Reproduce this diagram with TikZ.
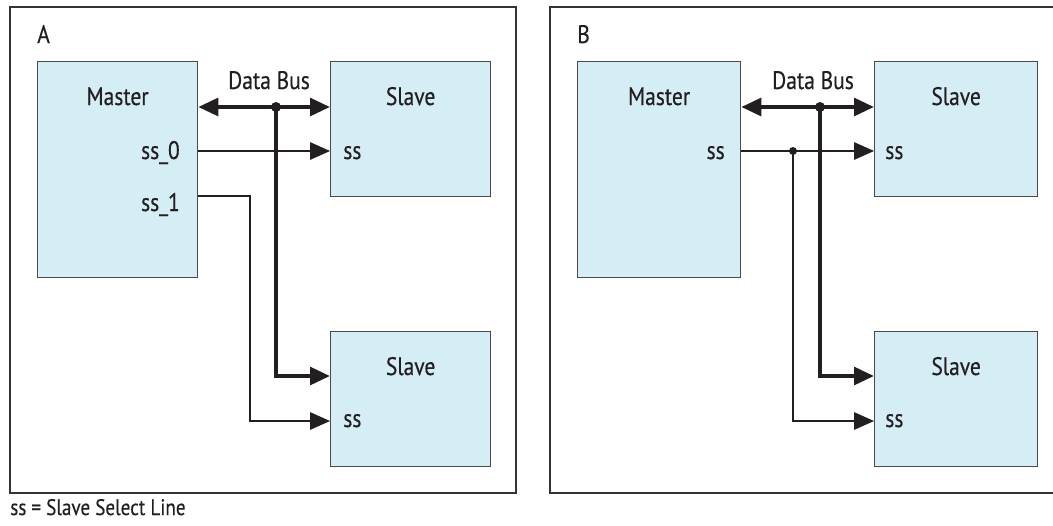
\documentclass[tikz,border=0pt]{standalone}
\usepackage{fontspec}
\setmainfont{PT Sans}[FakeStretch=0.85, FakeBold=0.4]
\usepackage{tikz}
\usetikzlibrary{arrows.meta,positioning,calc}
\definecolor{unitfill}{HTML}{D5EDF5}
\definecolor{edge}{HTML}{4A4A4A}
\definecolor{ink}{HTML}{231F20}

\begin{document}
\begin{tikzpicture}[x=0.25mm, y=-0.25mm,
    >={Triangle[length=5mm, width=4.4mm]},
    unit/.style={draw=edge, line width=0.9pt, fill=unitfill, anchor=north west, inner sep=0pt},
    lbl/.style={font=\fontsize{18}{21}\selectfont, text=ink, inner sep=0pt, anchor=base},
    bus/.style={draw=ink, line width=2.9pt},
    sel/.style={draw=ink, line width=0.8pt, ->},
    frm/.style={draw=edge!70!black, line width=1.2pt}]
        \useasboundingbox (0,0) rectangle (1053,525);
        % two panels, B runs off the right edge
        \foreach \x/\t in {10/A, 550/B} {
          \draw[frm] (\x,7) rectangle (\x+506,493);
          \node[lbl, anchor=base west] (tag\t) at (\x+27,43) {\t};
        }
        % A: one select line per slave
        \node[unit, minimum width=40mm, minimum height=54mm] (mA) at (37,61) {};
        \node[unit, minimum width=40mm, minimum height=33.75mm] (sA1) at (330,61) {};
        \node[unit, minimum width=40mm, minimum height=33.75mm] (sA2) at (330,331) {};
        \node[lbl] (tmA) at ($(mA.north)+(0,44)$) {Master};
        \node[lbl] (tsA1) at ($(sA1.north)+(0,44)$) {Slave};
        \node[lbl] (tsA2) at ($(sA2.north)+(0,44)$) {Slave};
        \node[lbl, anchor=base east] (pA0) at (180,159) {ss\_0};
        \node[lbl, anchor=base east] (pA1) at (180,211) {ss\_1};
        \node[lbl, anchor=base west] (iA1) at (343,159) {ss};
        \node[lbl, anchor=base west] (iA2) at (343,427) {ss};
        \node[lbl] (busA) at (269,89) {Data Bus};
        \coordinate (jA) at (276,107);
        \coordinate (kA) at (276,376);
        \coordinate (rA) at (250,196);
        \coordinate (qA) at (250,421);
        \draw[sel] (mA.east |- 0,151) -- (sA1.west |- 0,151);
        \draw[sel] (mA.east |- rA) -- (rA) -- (qA) -- (sA2.west |- qA);
        \draw[bus, <->] (mA.east |- jA) -- (sA1.west |- jA);
        \draw[bus, ->] (jA) -- (kA) -- (sA2.west |- kA);
        \fill[ink] (jA) circle[radius=1.25mm];
        % B: one shared select line
        \node[unit, minimum width=40.75mm, minimum height=54mm] (mB) at (577,61) {};
        \node[unit, minimum width=40.75mm, minimum height=33.75mm] (sB1) at (874,61) {};
        \node[unit, minimum width=40.75mm, minimum height=33.75mm] (sB2) at (874,331) {};
        \node[lbl] (tmB) at ($(mB.north)+(0,44)$) {Master};
        \node[lbl] (tsB1) at ($(sB1.north)+(0,44)$) {Slave};
        \node[lbl] (tsB2) at ($(sB2.north)+(0,44)$) {Slave};
        \node[lbl, anchor=base east] (pB) at (725,159) {ss};
        \node[lbl, anchor=base west] (iB1) at (885,159) {ss};
        \node[lbl, anchor=base west] (iB2) at (885,427) {ss};
        \node[lbl] (busB) at (813,89) {Data Bus};
        \coordinate (jB) at (820,107);
        \coordinate (kB) at (820,376);
        \coordinate (rB) at (793,151);
        \coordinate (qB) at (793,421);
        \draw[sel] (mB.east |- rB) -- (sB1.west |- rB);
        \draw[sel] (rB) -- (qB) -- (sB2.west |- qB);
        \draw[bus, <->] (mB.east |- jB) -- (sB1.west |- jB);
        \draw[bus, ->] (jB) -- (kB) -- (sB2.west |- kB);
        \fill[ink] (jB) circle[radius=1.25mm];
        \fill[ink] (rB) circle[radius=1mm];
        \node[lbl, anchor=base west, font=\fontsize{16}{19}\selectfont] (note) at (10,515) {ss = Slave Select Line};
      \end{tikzpicture}
\end{document}
